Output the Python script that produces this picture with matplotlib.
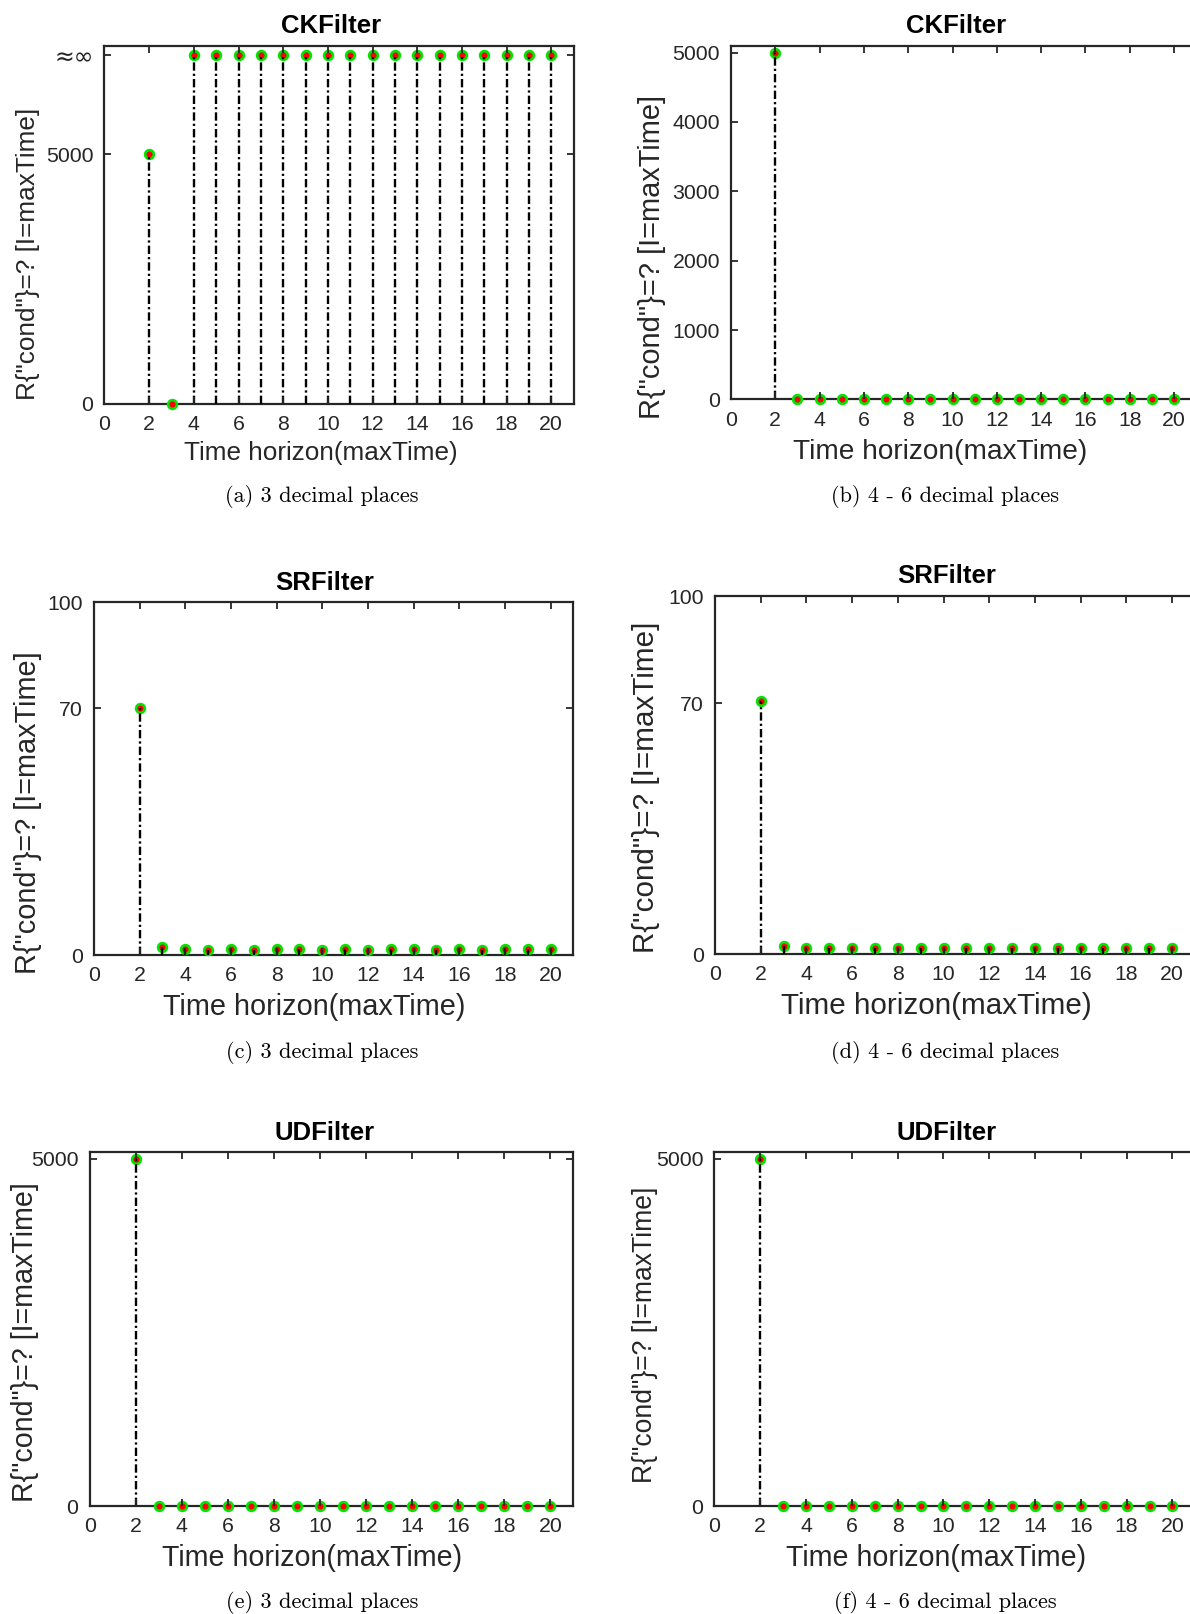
import numpy as np
import matplotlib
matplotlib.use("Agg")
import matplotlib.pyplot as plt

# ---------------- data ----------------
time_horizon = [2, 3, 4, 5, 6, 7, 8, 9, 10, 11, 12, 13, 14, 15, 16, 17, 18, 19, 20]
INF = float("inf")
ck_3dp = [5000, 0, INF, INF, INF, INF, INF, INF, INF, INF, INF, INF, INF, INF, INF, INF, INF, INF, INF]
ck_46dp = [5000, 0, 0, 0, 0, 0, 0, 0, 0, 0, 0, 0, 0, 0, 0, 0, 0, 0, 0]
sr_3dp = [70, 2.3, 1.7, 1.6, 1.7, 1.6, 1.7, 1.7, 1.6, 1.7, 1.6, 1.7, 1.7, 1.6, 1.7, 1.6, 1.7, 1.7, 1.7]
sr_46dp = [70.6, 2.4, 1.7, 1.7, 1.7, 1.8, 1.7, 1.7, 1.7, 1.7, 1.7, 1.7, 1.7, 1.7, 1.7, 1.8, 1.7, 1.7, 1.7]
ud_3dp = [5000, 0, 0, 0, 0, 0, 0, 0, 0, 0, 0, 0, 0, 0, 0, 0, 0, 0, 0]
ud_46dp = [5000, 0, 0, 0, 0, 0, 0, 0, 0, 0, 0, 0, 0, 0, 0, 0, 0, 0, 0]

titles = ["CKFilter", "CKFilter", "SRFilter", "SRFilter", "UDFilter", "UDFilter"]
captions = ["(a) 3 decimal places", "(b) 4 - 6 decimal places",
            "(c) 3 decimal places", "(d) 4 - 6 decimal places",
            "(e) 3 decimal places", "(f) 4 - 6 decimal places"]
xticks = [0, 2, 4, 6, 8, 10, 12, 14, 16, 18, 20]
INF_POS = 7000  # where "≈∞" is drawn
yticks = [[0, 5000, INF_POS], [0, 1000, 2000, 3000, 4000, 5000], [0, 70, 100],
          [0, 70, 100], [0, 5000], [0, 5000]]
yticklabels = [["0", "5000", "≈∞"], ["0", "1000", "2000", "3000", "4000", "5000"],
               ["0", "70", "100"], ["0", "70", "100"], ["0", "5000"], ["0", "5000"]]
series = [ck_3dp, ck_46dp, sr_3dp, sr_46dp, ud_3dp, ud_46dp]
ylims = [7170, 5090, 100, 100, 5100, 5100]
xmaxs = [21, 21.6, 21, 21.6, 21, 21.6]
xlabel = "Time horizon(maxTime)"
ylabel = 'R{"cond"}=? [I=maxTime]'

# ---------------- layout (pixels) ----------------
W, H = 1190, 1614
fig = plt.figure(figsize=(W / 100, H / 100), dpi=100)
plt.rcParams["font.family"] = ["Liberation Sans", "DejaVu Sans"]
plt.rcParams["lines.scale_dashes"] = False

# left, top, width, height in px
boxes = [(104.5, 46.3, 469, 357.2), (731, 46.3, 22.15 * 21.6, 353.1),
         (94, 602.2, 479.4, 353.1), (715, 596, 22.85 * 21.6, 358.3),
         (89.6, 1152, 483.8, 354), (714.4, 1152, 22.9 * 21.6, 354)]
title_pos = [(331.5, 26), (956, 26), (325, 583), (947, 576), (325, 1133.5), (947, 1133.5)]
xlabel_pos = [(321, 453), (940, 452), (314, 1007), (936, 1006), (312, 1557.5), (936, 1557.5)]
ylabel_pos = [(27.8, 254), (651.6, 257), (27.8, 813), (645.5, 787.5), (24.7, 1342), (645.5, 1335)]
caption_pos = [(322, 496), (945, 496), (322, 1052), (945, 1052), (322, 1602), (945, 1602)]
xlabel_fs = [18.8, 20.2, 20.8, 21.3, 20.6, 20.6]
ylabel_fs = [18.8, 20.9, 20.8, 21.3, 20.6, 19.1]

def fpos(x, y):
    return x / W, 1 - y / H

dark = "#262626"
for i in range(6):
    l, t, w, h = boxes[i]
    ax = fig.add_axes([l / W, 1 - (t + h) / H, w / W, h / H])
    vals = np.array(series[i], dtype=float)
    vals = np.where(np.isinf(vals), INF_POS, vals)
    ax.vlines(time_horizon, 0, vals, colors="black", linewidth=1.7,
              linestyles=[(0, (6.0, 2.2, 1.6, 2.2))], zorder=2.8, clip_on=False)
    ax.plot(time_horizon, vals, "o", ms=6.3, mfc="#ff0000", mec="#00e600", mew=1.9,
            zorder=2.7, clip_on=False, linestyle="none")
    ax.set_xlim(0, xmaxs[i])
    ax.set_ylim(0, ylims[i])
    ax.set_xticks(xticks)
    ax.set_xticklabels([str(v) for v in xticks])
    ax.set_yticks(yticks[i])
    ax.set_yticklabels(yticklabels[i])
    ax.tick_params(which="both", direction="in", top=True, right=True, length=5,
                   width=1.3, color=dark, labelcolor=dark, labelsize=15.3, pad=8)
    for lab in ax.get_yticklabels():
        if lab.get_text() == "≈∞":
            lab.set_fontfamily(["DejaVu Sans"])
            lab.set_fontsize(17)
    ax.xaxis.set_zorder(3)
    ax.yaxis.set_zorder(3)
    for sp in ax.spines.values():
        sp.set_linewidth(1.6)
        sp.set_color(dark)
        sp.set_zorder(2.5)
    ax.set_xlabel(xlabel, fontsize=xlabel_fs[i], color=dark, ha="center", va="center")
    ax.xaxis.set_label_coords(*fpos(*xlabel_pos[i]), transform=fig.transFigure)
    ax.set_ylabel(ylabel, fontsize=ylabel_fs[i], color=dark, ha="center", va="center")
    ax.yaxis.set_label_coords(*fpos(*ylabel_pos[i]), transform=fig.transFigure)
    fig.text(*fpos(*title_pos[i]), titles[i], fontsize=18.5, fontweight="bold",
             ha="center", va="center", color="black")
    fig.text(*fpos(*caption_pos[i]), captions[i], fontsize=16, family="cmr10",
             ha="center", va="center", color="black")

fig.savefig("out.png", dpi=100)
